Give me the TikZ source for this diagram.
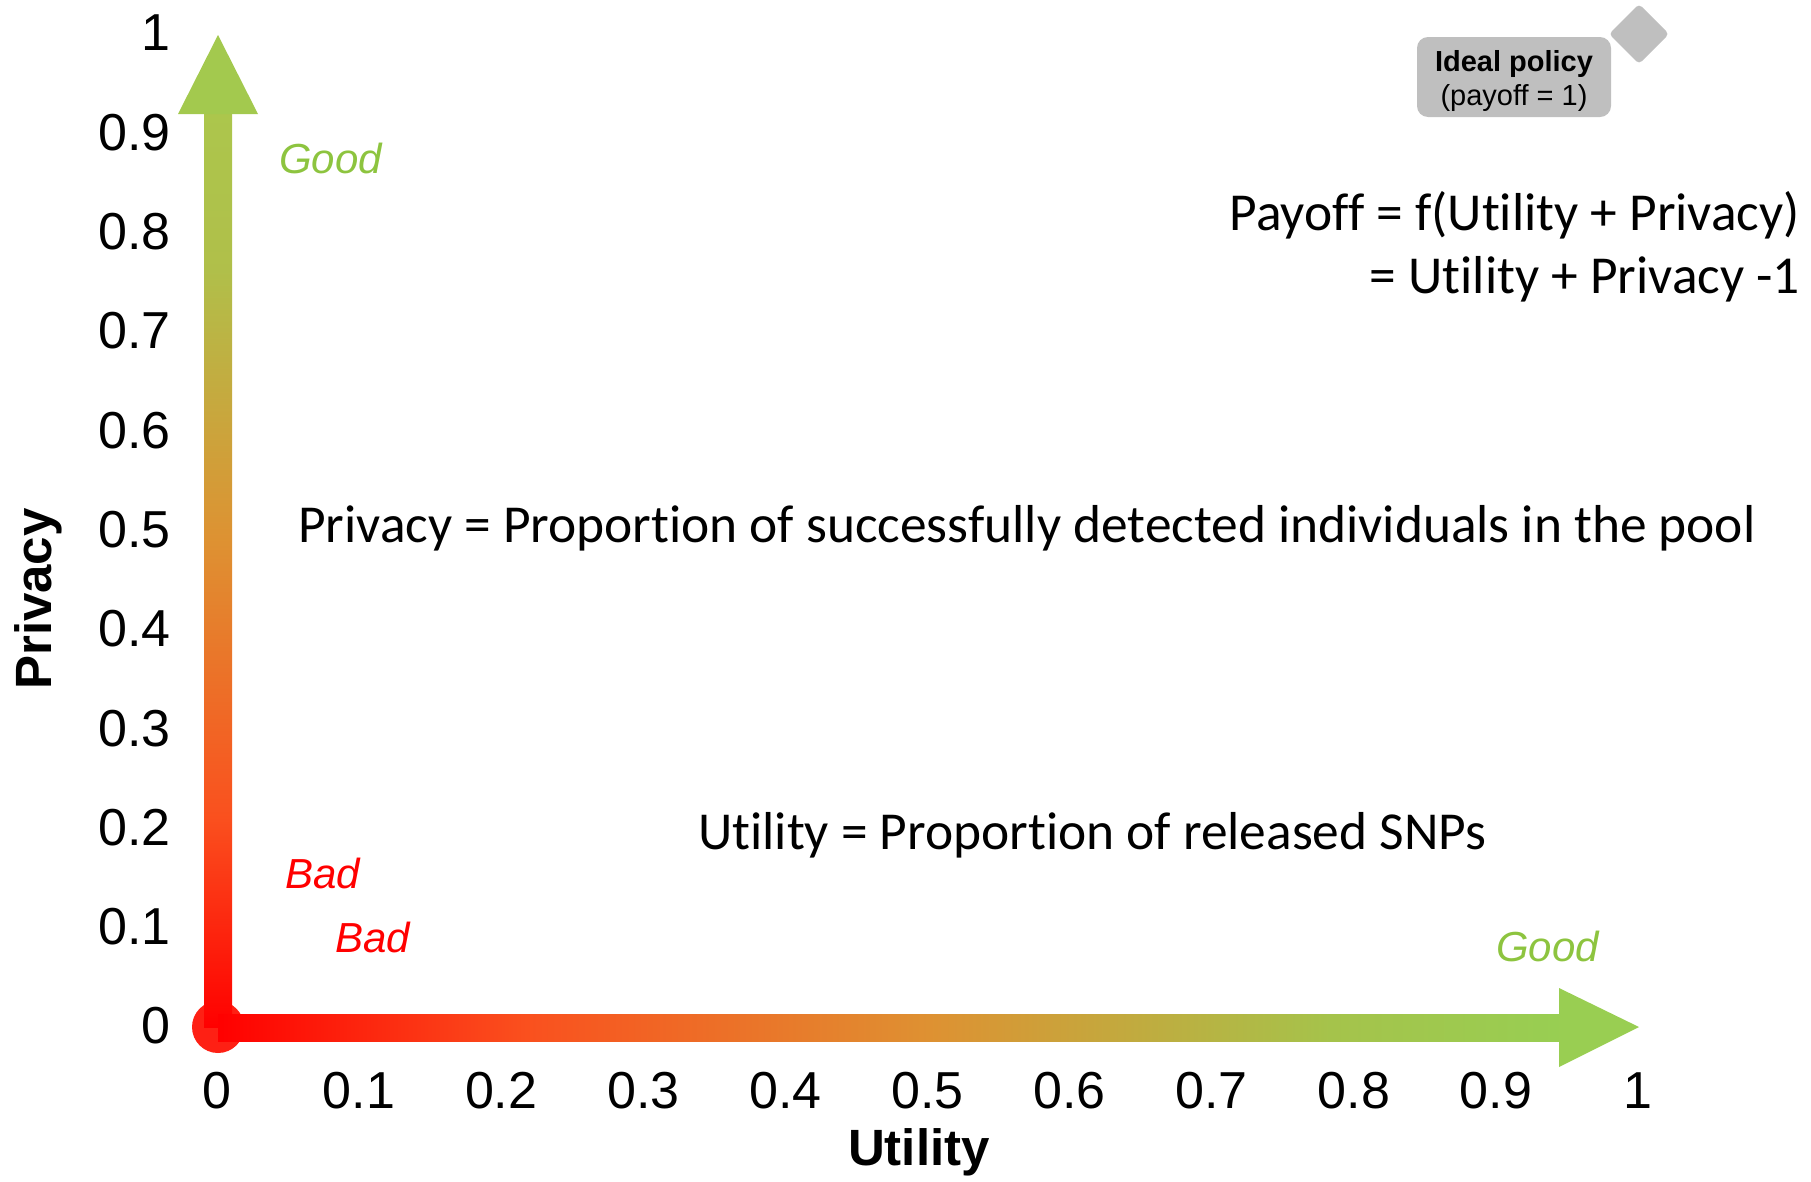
\documentclass[tikz,border=0pt]{standalone}
\usepackage{fontspec}
\setmainfont{Liberation Sans}
\newfontfamily\calfont[Ligatures=NoCommon]{Carlito}
\definecolor{headv}{RGB}{163,201,78}
\definecolor{headh}{RGB}{153,206,82}
\definecolor{goodgreen}{RGB}{141,196,63}
\definecolor{badred}{RGB}{255,0,0}
\definecolor{dotred}{RGB}{254,32,20}
\definecolor{boxgray}{RGB}{191,191,191}
\pgfdeclarehorizontalshading{axh}{100bp}{rgb(0bp)=(1,0,0); rgb(25bp)=(1,0,0); rgb(36.5bp)=(0.98,0.314,0.118); rgb(51.5bp)=(0.871,0.569,0.196); rgb(66.5bp)=(0.647,0.765,0.294); rgb(75bp)=(0.596,0.808,0.322); rgb(100bp)=(0.596,0.808,0.322)}
\pgfdeclareverticalshading{axv}{100bp}{rgb(0bp)=(1,0,0); rgb(25bp)=(1,0,0); rgb(36.5bp)=(0.98,0.314,0.118); rgb(51.5bp)=(0.871,0.569,0.196); rgb(66.5bp)=(0.69,0.75,0.29); rgb(75bp)=(0.675,0.776,0.298); rgb(100bp)=(0.675,0.776,0.298)}
\tikzset{
  ticklab/.style={font=\fontsize{52}{60}\selectfont, inner sep=0pt},
  axtitle/.style={font=\fontsize{51}{60}\selectfont\bfseries, inner sep=0pt},
  goodlab/.style={font=\fontsize{42}{50}\selectfont\itshape, text=goodgreen, inner sep=0pt},
  badlab/.style={font=\fontsize{42}{50}\selectfont\itshape, text=badred, inner sep=0pt},
  formula/.style={font=\fontsize{53.4}{63}\selectfont\calfont, inner sep=0pt},
  idealbox/.style={fill=boxgray, rounded corners=11pt, minimum width=194pt, minimum height=80pt, inner sep=0pt},
  idealtext/.style={align=center, inner sep=0pt, font=\fontsize{29}{34}\selectfont},
}
\begin{document}
\begin{tikzpicture}[x=1pt,y=-1pt]
\useasboundingbox (0,0) rectangle (1811,1181);
% axes
\coordinate (O) at (218,1027);
\coordinate (Ytip) at (218,35);
\coordinate (Xtip) at (1639,1027);
\fill[dotred] (O) circle (26);
\shade[shading=axv] (204,1027) rectangle (232,114);
\fill[headv] (178,114) -- (Ytip) -- (258,114) -- cycle;
\shade[shading=axh] (218,1014) rectangle (1559,1041);
\fill[headh] (1559,988) -- (Xtip) -- (1559,1067) -- cycle;
% ticks
\foreach \i/\l in {0/0,1/0.1,2/0.2,3/0.3,4/0.4,5/0.5,6/0.6,7/0.7,8/0.8,9/0.9,10/1}{
  \node[ticklab, anchor=east] (yl\i) at (171,{1026-\i*99.3}) {\l};
  \node[ticklab] (xl\i) at ({217+\i*142.1},1091) {\l};
}
% axis titles
\node[axtitle, rotate=90] (ptitle) at (38,599) {Privacy};
\node[axtitle] (utitle) at (919,1152) {Utility};
% good / bad
\node[goodlab, anchor=base west] (goodv) at (279,173) {Good};
\node[goodlab, anchor=base west] (goodh) at (1496,961) {Good};
\node[badlab, anchor=base west] (bad1) at (285,888) {Bad};
\node[badlab, anchor=base west] (bad2) at (335,952) {Bad};
% formulas
\node[formula, anchor=base east] (pay1) at (1800,230) {Payoff = f(Utility + Privacy)};
\node[formula, anchor=base east] (pay2) at (1800,293) {= Utility + Privacy -1};
\node[formula, anchor=base west] (pdef) at (298,542) {Privacy = Proportion of successfully detected individuals in the pool};
\node[formula, anchor=base west] (udef) at (698,849) {Utility = Proportion of released SNPs};
% ideal policy
\fill[boxgray, rounded corners=4pt] (1639,4) -- (1669,34) -- (1639,64) -- (1609,34) -- cycle;
\node[idealbox] (ideal) at (1514,77) {};
\node[idealtext] (idealt) at (1514,81) {\textbf{Ideal policy}\\(payoff = 1)};
\end{tikzpicture}
\end{document}
